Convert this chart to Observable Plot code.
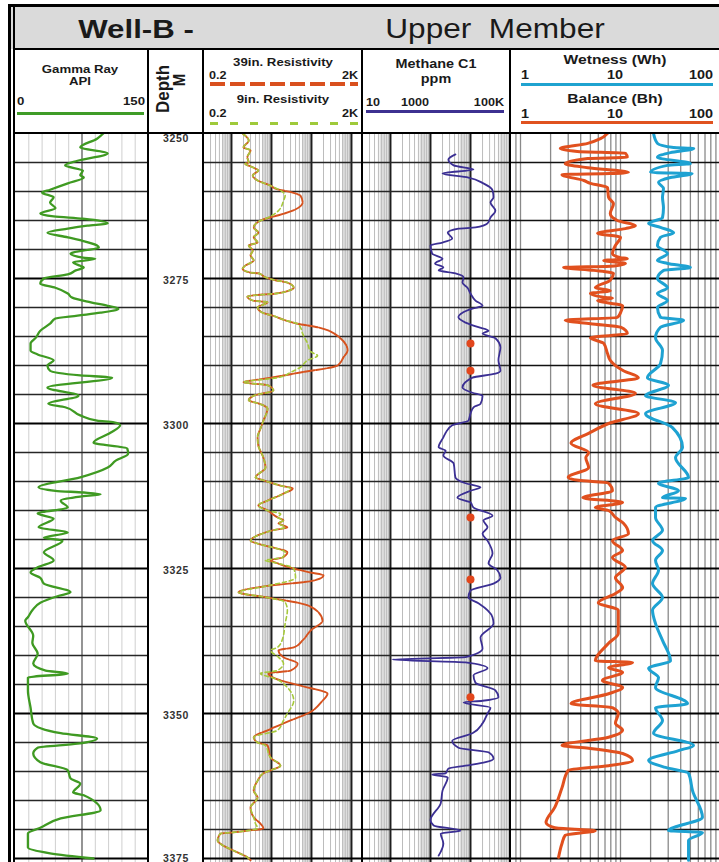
<!DOCTYPE html>
<html><head><meta charset="utf-8">
<script src="https://cdn.jsdelivr.net/npm/d3@7"></script>
<script src="https://cdn.jsdelivr.net/npm/@observablehq/plot@0.6"></script>
<style>
body{margin:0;background:#fff;}
#page{position:relative;width:719px;height:862px;overflow:hidden;background:#fff;font-family:"Liberation Sans",Arial,Helvetica,sans-serif;}
</style></head><body><div id="page"></div>
<script>
// ---------------- DATA (depth in m, value) ----------------
const depthLabels = [3250, 3275, 3300, 3325, 3350, 3375];

const gammaRay = [[3250.0,99],[3250.9,92],[3252.4,73],[3253.4,104],[3254.7,70],[3255.5,56],[3256.4,76],[3257.2,73],[3257.6,77],[3258.6,59],[3259.7,39],[3260.2,30],[3261.0,43],[3261.9,39],[3262.9,45],[3263.8,28],[3264.3,43],[3264.7,76],[3265.5,104],[3265.9,81],[3266.4,59],[3267.1,36],[3267.9,59],[3268.4,73],[3269.3,92],[3269.7,94],[3270.2,76],[3270.7,62],[3271.4,76],[3271.6,90],[3272.2,65],[3272.8,73],[3273.1,77],[3273.6,68],[3274.3,59],[3275.0,32],[3275.9,28],[3276.6,45],[3277.6,59],[3278.3,64],[3279.1,85],[3279.7,104],[3280.2,116],[3280.9,96],[3281.4,70],[3281.9,45],[3282.8,39],[3284.0,28],[3285.2,23],[3286.2,17],[3287.4,17],[3288.1,25],[3289.1,43],[3290.0,36],[3290.9,39],[3291.7,73],[3292.1,109],[3293.8,36],[3295.2,71],[3296.6,37],[3297.2,56],[3298.6,73],[3299.5,92],[3299.8,111],[3300.3,118],[3301.6,107],[3303.3,88],[3304.3,126],[3305.2,127],[3306.4,113],[3307.6,104],[3309.3,73],[3311.0,26],[3311.6,45],[3311.9,77],[3312.2,96],[3312.6,73],[3313.3,51],[3314.5,59],[3315.5,25],[3316.4,43],[3317.9,26],[3318.8,59],[3319.7,32],[3320.2,53],[3322.2,32],[3323.6,43],[3324.8,25],[3325.7,17],[3326.6,28],[3327.6,32],[3329.1,62],[3329.7,49],[3330.9,28],[3332.2,19],[3333.4,14],[3334.0,11],[3336.6,20],[3337.8,19],[3339.7,25],[3341.4,20],[3342.6,34],[3343.1,59],[3343.8,14],[3346.0,14],[3349.0,17],[3351.7,20],[3353.4,51],[3354.3,92],[3355.2,70],[3355.9,25],[3356.9,20],[3358.4,28],[3359.8,59],[3361.2,62],[3362.1,73],[3363.6,65],[3364.1,77],[3366.7,96],[3368.1,51],[3369.7,28],[3370.7,14],[3373.1,14],[3374.1,39],[3375.0,88]];

const res39in = [[3250.0,1.9],[3251.2,2.7],[3252.4,2.0],[3252.9,3.0],[3254.1,2.5],[3255.0,2.7],[3255.2,2.2],[3255.9,3.6],[3256.4,4.7],[3257.2,3.4],[3258.1,4.5],[3259.0,9.5],[3259.5,12.6],[3260.2,34],[3260.7,53],[3261.9,60],[3263.3,34],[3264.1,15],[3264.7,7.1],[3265.3,4.5],[3266.2,3.6],[3267.1,4.7],[3267.9,3.6],[3268.8,4.5],[3269.3,2.7],[3270.2,3.4],[3271.0,3.0],[3271.9,3.6],[3272.8,2.2],[3273.3,1.9],[3274.0,3.0],[3274.1,4.7],[3274.8,7.1],[3275.3,12.6],[3275.7,25],[3276.6,36],[3277.1,27],[3277.6,12.6],[3277.9,3.6],[3278.1,2.5],[3278.8,3.4],[3279.1,8.0],[3280.0,4.5],[3280.9,6.0],[3281.4,10.6],[3282.2,22],[3282.8,45],[3283.4,142],[3285.3,530],[3287.4,800],[3288.6,630],[3290.0,450],[3291.2,53],[3292.2,8.0],[3292.9,2.0],[3293.4,8.0],[3294.3,11.2],[3295.2,3.6],[3296.0,2.7],[3296.6,5.0],[3297.4,8.0],[3299.5,6.3],[3300.9,5.3],[3302.4,4.5],[3303.8,4.7],[3305.9,6.3],[3307.6,7.1],[3309.3,4.0],[3309.8,6.3],[3310.7,16.8],[3311.2,34],[3312.1,20],[3313.3,8.0],[3314.1,4.7],[3315.0,8.0],[3316.2,14.2],[3316.7,20],[3317.2,15],[3317.9,25],[3318.4,11.2],[3319.3,4.5],[3320.2,3.0],[3320.7,4.5],[3321.4,11.2],[3322.2,25],[3323.1,18.9],[3323.6,9.5],[3324.1,14.2],[3325.0,36],[3325.7,95],[3326.2,200],[3327.1,112],[3328.0,8.0],[3329.1,1.5],[3330.0,8.0],[3331.0,53],[3332.4,142],[3334.0,189],[3335.7,95],[3337.4,60],[3338.6,36],[3339.1,15],[3340.3,20],[3341.4,45],[3342.6,30],[3343.1,8.4],[3344.0,12.6],[3345.2,53],[3346.6,252],[3347.8,189],[3350.0,80],[3351.2,30],[3352.9,8.0],[3354.1,3.6],[3355.0,4.5],[3355.5,8.0],[3357.6,9.5],[3359.0,16.8],[3359.8,9.5],[3360.3,6.3],[3361.6,4.5],[3363.3,3.6],[3364.5,4.5],[3366.2,3.0],[3367.9,3.6],[3369.0,5.3],[3369.8,6.3],[3370.2,2.5],[3370.5,1.1],[3370.7,0.53],[3371.9,0.45],[3372.8,0.63],[3373.6,1.1],[3374.8,2.5],[3375.3,3.0]];

const res9in = [[3250.0,1.9],[3251.2,2.7],[3252.4,2.0],[3252.9,3.0],[3254.1,2.5],[3255.0,2.7],[3255.2,2.2],[3255.9,3.6],[3256.4,4.7],[3257.2,3.4],[3258.1,4.5],[3259.0,9.5],[3260.2,20],[3260.7,22],[3261.6,20],[3263.3,15],[3264.1,10.6],[3264.7,7.1],[3265.3,4.5],[3266.2,3.6],[3267.1,4.7],[3267.9,3.6],[3268.8,4.5],[3269.3,2.7],[3270.2,3.4],[3271.0,3.0],[3271.9,3.6],[3272.8,2.2],[3273.3,1.9],[3274.0,3.0],[3274.1,4.7],[3274.8,7.1],[3275.3,12.6],[3275.7,25],[3276.6,36],[3277.1,27],[3277.6,12.6],[3277.9,3.6],[3278.1,2.5],[3278.8,3.4],[3279.1,8.0],[3280.0,4.5],[3280.9,6.0],[3281.4,10.6],[3282.2,22],[3282.8,45],[3283.4,53],[3284.5,60],[3286.2,80],[3287.6,95],[3288.3,142],[3289.1,80],[3290.3,53],[3291.2,30],[3292.1,14.2],[3292.9,2.0],[3293.4,8.0],[3294.3,11.2],[3295.2,3.6],[3296.0,2.7],[3296.6,5.0],[3297.4,8.0],[3299.5,6.3],[3300.9,5.3],[3302.4,4.5],[3303.8,4.7],[3305.9,6.3],[3307.6,7.1],[3309.3,4.0],[3309.8,6.3],[3310.7,16.8],[3311.2,30],[3312.1,20],[3313.3,8.0],[3314.1,4.7],[3315.0,8.0],[3315.6,17],[3316.2,14.2],[3316.7,20],[3317.2,15],[3317.9,22],[3318.4,11.2],[3319.3,4.5],[3320.2,3.0],[3320.7,4.5],[3321.4,11.2],[3322.2,22],[3323.1,18.9],[3323.6,7],[3324.1,14.2],[3325.0,36],[3326.6,40],[3328.0,8.0],[3329.1,1.5],[3330.0,8.0],[3330.8,22],[3332.2,25],[3334.5,22],[3337.1,19],[3338.6,14.2],[3339.1,9.5],[3340.3,15],[3341.4,20],[3342.6,14],[3343.1,5.3],[3344.0,12.6],[3345.5,25],[3347.8,36],[3350.0,25],[3351.2,20],[3352.9,14.2],[3354.1,3.6],[3355.0,4.5],[3355.5,7.0],[3357.6,9.5],[3359.0,16.8],[3359.8,9.5],[3360.3,6.3],[3361.6,4.5],[3363.3,3.6],[3364.5,4.5],[3366.2,3.0],[3367.9,3.6],[3369.0,4.0],[3369.8,4.5],[3370.2,2.5],[3370.5,1.1],[3370.7,0.53],[3371.9,0.45],[3372.8,0.63],[3373.6,1.1],[3374.8,2.5],[3375.3,3.0]];

const methaneC1 = [[3253.6,4200],[3254.5,2800],[3255.5,3800],[3256.2,11900],[3256.9,2000],[3257.6,8900],[3258.6,21000],[3259.8,35500],[3261.0,37600],[3261.9,31600],[3263.3,42000],[3264.5,31600],[3265.5,26600],[3266.2,13300],[3266.4,5000],[3267.1,2700],[3268.1,3500],[3268.8,2000],[3269.3,1000],[3270.7,1100],[3271.6,2000],[3272.4,1300],[3273.1,2100],[3273.6,1600],[3274.1,4200],[3274.8,6700],[3275.7,6300],[3276.6,8400],[3277.6,10000],[3278.8,13300],[3279.7,20000],[3280.2,11200],[3280.9,6300],[3281.7,5000],[3282.6,7500],[3283.4,15800],[3284.0,28200],[3284.5,20000],[3285.3,42000],[3286.9,56000],[3289.1,50000],[3290.9,56000],[3291.4,42000],[3292.1,11200],[3293.8,6300],[3294.7,11200],[3295.2,20000],[3296.6,17800],[3297.2,11900],[3298.3,10000],[3299.5,8900],[3300.3,3500],[3301.6,2400],[3302.4,2100],[3304.1,1600],[3304.7,2400],[3305.5,2100],[3306.9,3800],[3309.3,4200],[3310.3,7500],[3311.0,17800],[3311.6,10000],[3312.8,4700],[3313.6,10000],[3314.5,11900],[3315.9,35500],[3316.7,21000],[3317.9,26600],[3319.0,20000],[3320.2,26600],[3322.4,35500],[3324.1,28200],[3325.3,47000],[3326.6,56000],[3327.6,37600],[3328.8,10000],[3330.0,8900],[3331.0,15800],[3333.4,35500],[3334.5,37600],[3336.9,17800],[3338.8,20000],[3340.3,7500],[3340.7,110],[3341.2,7500],[3342.2,26600],[3343.4,11900],[3344.7,13300],[3346.0,42000],[3347.2,50000],[3347.8,20000],[3348.1,6700],[3349.0,31600],[3350.0,26600],[3351.7,20000],[3353.4,11200],[3354.7,3500],[3355.9,5000],[3356.7,28200],[3357.8,37600],[3358.4,23700],[3359.0,7500],[3359.5,2800],[3360.3,2400],[3360.5,1100],[3361.0,2700],[3363.3,2000],[3365.5,1800],[3368.4,1000],[3369.3,1200],[3370.2,5600],[3370.7,1800],[3372.4,2100],[3374.5,1600]];

const methaneShows = [[3286.2,10000],[3290.9,10000],[3316.2,10000],[3326.9,10000],[3347.2,10000]];

const balanceBh = [[3250.0,7.4],[3250.9,6.3],[3251.7,4.7],[3252.6,2.5],[3253.1,3.7],[3253.4,11.2],[3254.1,11.7],[3254.3,4.7],[3255.2,2.8],[3255.9,4.7],[3256.7,12.0],[3256.9,7.9],[3257.1,2.6],[3258.1,4.3],[3258.6,5.0],[3259.3,7.4],[3261.0,7.6],[3262.1,8.5],[3263.8,7.9],[3265.0,9.3],[3265.9,14.1],[3266.4,11.2],[3267.2,5.9],[3267.9,10],[3269.3,8.9],[3270.7,8.3],[3271.4,10],[3271.6,11.7],[3271.9,6.8],[3272.4,11.2],[3272.9,7.9],[3273.1,2.7],[3273.6,5.4],[3274.1,8.5],[3275.3,7.9],[3276.6,5.6],[3277.1,7.9],[3277.6,5.0],[3278.3,7.4],[3278.4,8.3],[3278.8,5.9],[3279.7,10.5],[3280.9,10],[3281.7,9.3],[3282.2,2.8],[3282.8,5.0],[3283.4,10],[3284.5,11.7],[3285.2,5.0],[3286.2,6.8],[3287.9,7.4],[3289.1,7.9],[3290.9,10.7],[3292.1,15.1],[3293.4,5.3],[3294.8,14.1],[3296.6,5.6],[3298.3,15.1],[3300.0,7.6],[3301.7,4.8],[3303.4,3.2],[3305.0,4.8],[3305.9,4.5],[3307.6,4.8],[3309.3,3.0],[3309.8,3.8],[3310.3,7.6],[3311.6,8.3],[3312.8,4.2],[3313.6,10.5],[3314.5,5.6],[3315.0,7.6],[3316.2,8.9],[3317.2,10.7],[3319.0,12.0],[3320.2,8.3],[3321.9,10.5],[3323.1,8.3],[3324.8,11.2],[3326.6,8.9],[3328.3,10.5],[3329.3,8.9],[3330.9,6.0],[3332.2,9.5],[3334.0,9.5],[3336.2,9.5],[3337.9,7.6],[3340.9,5.6],[3341.2,13.2],[3342.1,7.6],[3342.9,10.5],[3344.3,6.6],[3345.5,10.5],[3346.6,7.6],[3348.3,3.2],[3349.0,8.3],[3350.0,9.5],[3351.7,8.9],[3352.9,10.5],[3354.1,7.6],[3355.5,2.6],[3356.0,4.8],[3356.9,10.5],[3358.1,13.2],[3359.0,7.6],[3359.8,3.0],[3362.8,2.6],[3366.2,2.2],[3368.8,1.8],[3369.7,2.2],[3370.2,5.6],[3371.0,2.8],[3372.4,2.6],[3374.8,2.4]];

const wetnessWh = [[3250.0,21.4],[3251.7,23.4],[3252.4,34],[3252.6,54],[3253.3,31.6],[3254.1,23.4],[3255.2,50],[3255.5,29.5],[3256.7,20],[3256.9,52],[3257.6,31.6],[3258.4,24],[3259.5,26.9],[3261.0,26.3],[3262.8,26.9],[3264.5,26.3],[3265.5,19.1],[3266.2,25.1],[3267.1,34],[3267.9,25.1],[3269.3,23.4],[3270.7,29.5],[3271.9,23.4],[3272.4,29.5],[3273.1,50],[3273.6,26.9],[3275.0,23.4],[3276.6,29.5],[3277.6,23.4],[3278.8,29.5],[3280.0,23.4],[3281.7,25.1],[3282.2,42.7],[3283.4,25.1],[3285.2,22.4],[3287.4,26.3],[3289.7,25.1],[3292.1,18.6],[3293.4,30.2],[3295.2,17.8],[3296.4,35.5],[3298.3,17.8],[3300.7,33.1],[3304.1,41.7],[3305.9,35.5],[3309.3,47.9],[3310.3,24],[3311.6,38],[3312.8,26.3],[3312.9,44.7],[3314.5,22.4],[3316.2,22.4],[3318.4,26.3],[3320.2,20.9],[3321.9,26.3],[3323.6,22.4],[3325.3,24],[3327.6,20.9],[3330.0,26.3],[3332.2,20.9],[3334.5,22.4],[3337.4,26.3],[3340.9,31.6],[3342.2,19.1],[3343.8,24],[3345.5,22.4],[3348.3,46.8],[3349.0,22.4],[3351.2,26.3],[3353.4,21.4],[3355.5,53.7],[3356.4,38],[3358.1,19.1],[3359.3,28.2],[3360.3,47.9],[3363.3,52.5],[3367.9,66],[3370.2,30.2],[3370.5,66],[3371.9,47.9],[3375.3,47.9]];

// ---------------- LAYOUT ----------------
const page = document.getElementById("page");
const TOP = 133, H = 729, PXM = 5.8;
const yDomain = [3250, 3250 + H / PXM];
const grid25 = [3275, 3300, 3325, 3350, 3375];
const grid5 = d3.range(3255, 3375, 5).filter(d => d % 25 !== 0);

function box(css) { const el = document.createElement("div"); el.style.cssText = "position:absolute;" + css; page.appendChild(el); return el; }
function label(text, x, y, size, o = {}) {
  const a = o.anchor || "middle", sx = o.sx || 1.2;
  const tx = a === "start" ? "0" : a === "end" ? "-100%" : "-50%";
  const org = a === "start" ? "0% 50%" : a === "end" ? "100% 50%" : "50% 50%";
  const el = box(`left:${x}px;top:${y}px;font-size:${size}px;font-weight:${o.weight || "bold"};color:${o.color || "#1a1a1a"};white-space:pre;line-height:1;transform-origin:${org};transform:translate(${tx},-50%) scaleX(${sx})${o.rot ? " rotate(-90deg)" : ""};`);
  el.textContent = text;
  return el;
}

function logLines(lo, hi) {
  const out = [];
  for (let e = Math.floor(Math.log10(lo)) - 1; e <= Math.ceil(Math.log10(hi)); e++)
    for (let m = 1; m < 10; m++) { const v = +(m * Math.pow(10, e)).toPrecision(6); if (v > lo * 1.0001 && v < hi * 0.9999) out.push(v); }
  return out;
}

function track(left, width, xOpts, marks, extra = {}) {
  const svg = Plot.plot({
    width, height: H, margin: 0,
    x: {...xOpts, axis: null},
    y: {domain: yDomain, reverse: true, axis: null},
    style: {background: "transparent", overflow: "hidden", ...(extra.style || {})},
    marks
  });
  svg.style.position = "absolute";
  svg.style.left = left + "px";
  svg.style.top = TOP + "px";
  page.appendChild(svg);
}
const hGrid = (c5 = "#262626", w5 = 1.4) => [
  Plot.ruleY(grid5, {y: d => d, stroke: c5, strokeWidth: w5}),
  Plot.ruleY(grid25, {y: d => d, stroke: "#000", strokeWidth: 2.2})
];
const curve = (data, stroke, strokeWidth, more = {}) =>
  Plot.line(data, {x: d => d[1], y: d => d[0], stroke, strokeWidth, curve: "monotone-y", ...more});

// ---------------- HEADER ----------------
box("left:9px;top:6px;width:720px;height:43px;background:#dadada;");
label("Well-B -", 136, 29, 26, {sx: 1.2});
label("Upper  Member", 495, 29, 27, {weight: "normal", sx: 1.17});

// Gamma header
label("Gamma Ray", 80, 69, 11);
label("API", 80, 81, 11);
label("0", 17, 101, 11, {anchor: "start"});
label("150", 145, 101, 11, {anchor: "end"});
box("left:17px;top:112px;width:127px;height:3px;background:#3f9c28;");
// Depth header
label("Depth", 163, 89, 17, {rot: true, sx: 1.1});
label("M", 179, 80, 15, {rot: true, sx: 1.1});
// Resistivity header
label("39in. Resistivity", 283, 62, 11);
label("0.2", 209, 75, 10.5, {anchor: "start"});
label("2K", 358, 75, 10.5, {anchor: "end"});
box("left:210px;top:82px;width:148px;height:4px;background:repeating-linear-gradient(90deg,#d9501e 0 15px,transparent 15px 20px);");
label("9in. Resistivity", 283, 99, 11);
label("0.2", 209, 113, 10.5, {anchor: "start"});
label("2K", 358, 113, 10.5, {anchor: "end"});
box("left:210px;top:122px;width:148px;height:3px;background:repeating-linear-gradient(90deg,#9fca3a 0 8px,transparent 8px 20px);");
// Methane header
label("Methane C1", 436, 64, 12);
label("ppm", 436, 79, 12);
label("10", 366, 102, 10.5, {anchor: "start"});
label("1000", 415, 102, 10.5);
label("100K", 504, 102, 10.5, {anchor: "end"});
box("left:366px;top:110px;width:138px;height:3px;background:#3d3191;");
// Wetness / Balance header
label("Wetness (Wh)", 615, 59, 13);
label("1", 521, 75, 12, {anchor: "start"});
label("10", 615, 75, 12);
label("100", 713, 75, 12, {anchor: "end"});
box("left:521px;top:83px;width:192px;height:3px;background:#1fa3d0;");
label("Balance (Bh)", 615, 98, 13);
label("1", 521, 114, 12, {anchor: "start"});
label("10", 615, 114, 12);
label("100", 713, 114, 12, {anchor: "end"});
box("left:521px;top:121px;width:192px;height:3px;background:#e0521f;");

// ---------------- TRACKS ----------------
// Gamma ray (linear 0-150)
track(15, 133, {domain: [0, 150]}, [
  Plot.ruleX(d3.range(15, 150, 15).filter(v => v !== 75), {x: d => d, stroke: "#cfcfcf", strokeWidth: 1}),
  Plot.ruleX([75], {x: d => d, stroke: "#7a7a7a", strokeWidth: 1.6}),
  ...hGrid(),
  curve(gammaRay, "#3f9a22", 2.3)
]);

// Depth labels
const depthText = {frameAnchor: "middle", text: d => String(d), fontSize: 10.5, fontWeight: "bold", fill: "#333"};
track(148, 55, {domain: [0, 1]}, [
  Plot.text(depthLabels.filter(d => d === 3250), {y: d => d, ...depthText, lineAnchor: "top", dy: 1}),
  Plot.text(depthLabels.filter(d => d > 3250 && d < 3375), {y: d => d, ...depthText, dy: 2}),
  Plot.text(depthLabels.filter(d => d === 3375), {y: d => d, ...depthText, lineAnchor: "bottom", dy: 3})
], {style: {letterSpacing: "0.7px", fontFamily: "Liberation Sans, Arial, sans-serif"}});

// Resistivity (log 0.2 - 2000)
const resBands = [[0.6, 1], [6, 10], [60, 100], [600, 1000]];
track(203, 160, {type: "log", domain: [0.2, 2000]}, [
  Plot.rect(resBands, {x1: d => d[0], x2: d => d[1], fill: "#dedede"}),
  Plot.ruleX(logLines(0.2, 2000).filter(v => ![1, 10, 100, 1000].includes(v)), {x: d => d, stroke: "#bcbcbc", strokeWidth: 1}),
  Plot.ruleX([1, 10, 100, 1000], {x: d => d, stroke: "#1e1e1e", strokeWidth: 2}),
  ...hGrid(),
  curve(res39in, "#d6521e", 1.9, {strokeDasharray: "10,1.5"}),
  curve(res9in, "#a6c93c", 1.6, {strokeDasharray: "4,3"})
]);

// Methane (log)
const metBands = [[55, 100], [550, 1000], [5500, 10000], [55000, 100000]];
track(362, 148, {type: "log", domain: [20, 100000]}, [
  Plot.rect(metBands, {x1: d => d[0], x2: d => d[1], fill: "#e0e0e0"}),
  Plot.ruleX(logLines(20, 100000).filter(v => ![100, 1000, 10000].includes(v)), {x: d => d, stroke: "#bcbcbc", strokeWidth: 1}),
  Plot.ruleX([100, 1000, 10000], {x: d => d, stroke: "#1e1e1e", strokeWidth: 2}),
  ...hGrid(),
  curve(methaneC1, "#3b2f93", 1.8),
  Plot.dot(methaneShows, {x: d => d[1], y: d => d[0], r: 4, fill: "#e2461c", stroke: "none"})
]);

// Wetness / Balance (log 1 - 100)
track(510, 209, {type: "log", domain: [Math.pow(10, -0.1), Math.pow(10, 1.99)]}, [
  Plot.ruleX(logLines(0.8, 97), {x: d => d, stroke: "#8a8a8a", strokeWidth: 1.3}),
  ...hGrid("#111", 1.6),
  curve(balanceBh, "#e1501e", 3),
  curve(wetnessWh, "#1ea2d2", 3)
]);

// ---------------- FRAME LINES ----------------
box("left:8px;top:4px;width:720px;height:3px;background:#000;");
box("left:8px;top:4px;width:3px;height:860px;background:#000;");
box("left:13px;top:6px;width:1.5px;height:860px;background:#000;");
box("left:13px;top:48px;width:720px;height:1.5px;background:#000;");
box("left:13px;top:132px;width:720px;height:2px;background:#000;");
for (const x of [146.5, 202, 361, 509]) box(`left:${x}px;top:48px;width:2px;height:820px;background:#000;`);
</script></body></html>
